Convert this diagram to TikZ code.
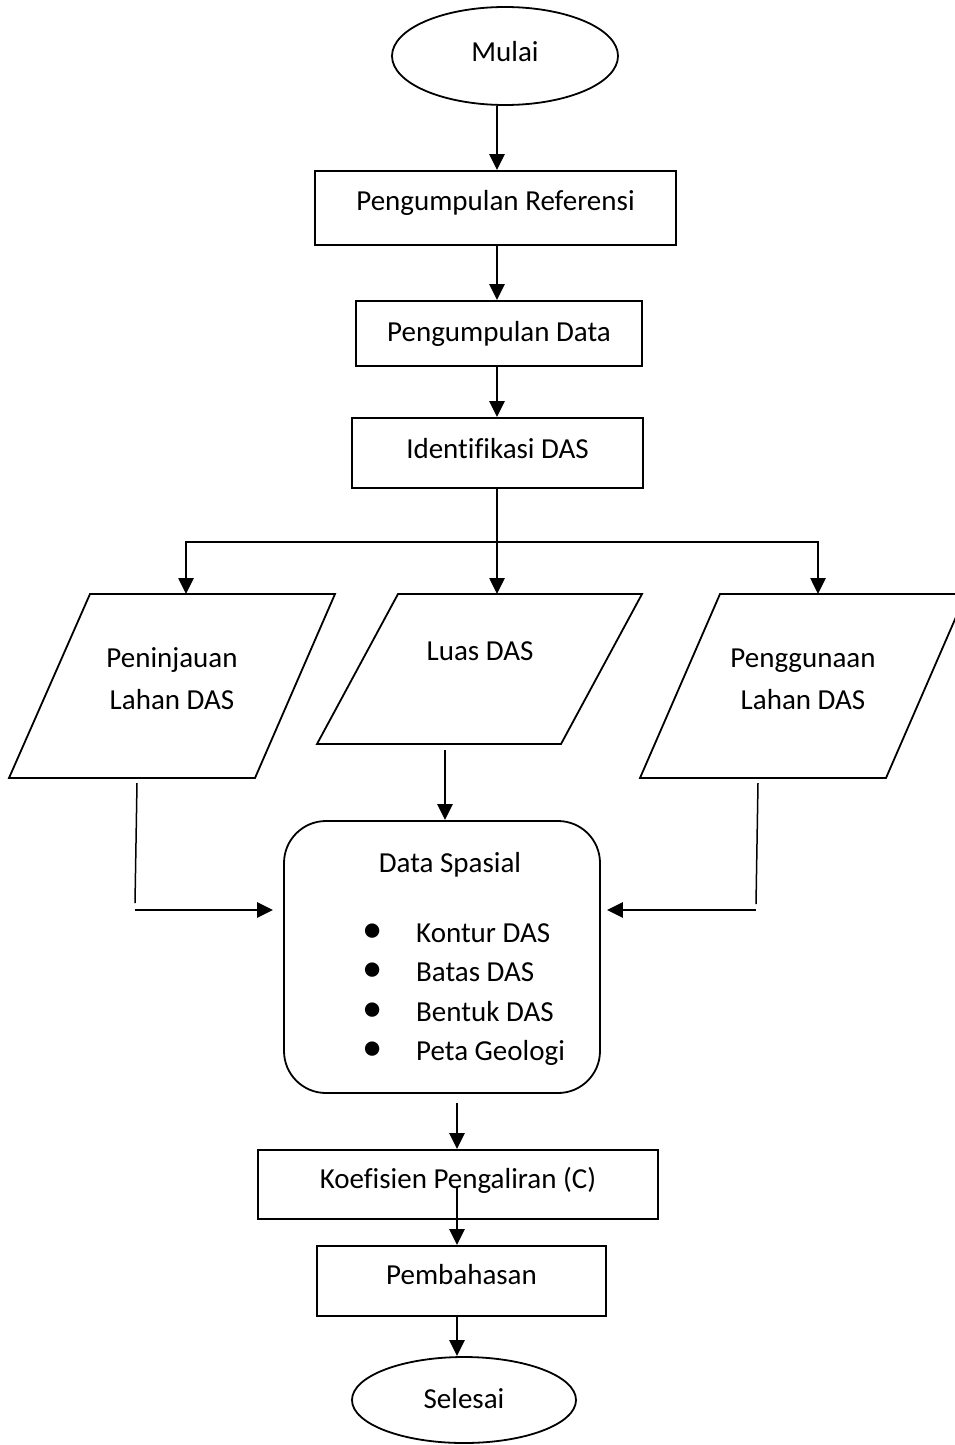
\documentclass[tikz,border=0pt]{standalone}
\usepackage{fontspec}
\setmainfont[Ligatures=NoCommon]{Carlito}
\usetikzlibrary{shapes.geometric,arrows.meta}
\begin{document}
\begin{tikzpicture}[x=1pt,y=-1pt,
  every node/.style={font=\fontsize{29}{42}\selectfont, inner sep=0pt},
  box/.style={draw, line width=1.8pt, rectangle},
  term/.style={draw, line width=1.8pt, ellipse},
  para/.style={draw, line width=1.8pt, line join=miter},
  arr/.style={line width=2.6pt, -{Triangle[length=16pt,width=15pt]}},
  thinline/.style={line width=1.5pt},
  lbl/.style={anchor=base},
  itm/.style={anchor=base west}
]
\useasboundingbox (0,0) rectangle (955,1445);
\clip (0,0) rectangle (955,1445);

% terminals and process boxes
\node[term, minimum width=226pt, minimum height=98pt, text height=20pt, text depth=8pt] (start) at (505,56) {Mulai};
\node[box, minimum width=361pt, minimum height=74pt, text height=20pt, text depth=16pt] (ref) at (495.5,208) {Pengumpulan Referensi};
\node[box, minimum width=286pt, minimum height=65pt, text height=22pt, text depth=7pt] (data) at (499,333.5) {Pengumpulan Data};
\node[box, minimum width=291pt, minimum height=70pt, text height=20pt, text depth=10pt] (ident) at (497.5,453) {Identifikasi DAS};

% parallelograms
\draw[para] (90,594) -- (335,594) -- (255,778) -- (9,778) -- cycle;
\draw[para] (398,594) -- (642,594) -- (561,744) -- (317,744) -- cycle;
\draw[para] (720,594) -- (966,594) -- (886,778) -- (640,778) -- cycle;
\node[align=center] (t1) at (172,679) {Peninjauan\\Lahan DAS};
\node[lbl] (t2) at (480,660) {Luas DAS};
\node[align=center] (t3) at (803,679) {Penggunaan\\Lahan DAS};

% spatial data
\node[draw, line width=1.8pt, rounded corners=42pt, minimum width=316pt, minimum height=272pt] (spasial) at (442,957) {};
\node[lbl] (st) at (450,872) {Data Spasial};
\node[itm] (i1) at (362,942) {\makebox[20pt]{\scalebox{1.4}{\textbullet}}\hspace{34pt}Kontur DAS};
\node[itm] (i2) at (362,981.5) {\makebox[20pt]{\scalebox{1.4}{\textbullet}}\hspace{34pt}Batas DAS};
\node[itm] (i3) at (362,1021) {\makebox[20pt]{\scalebox{1.4}{\textbullet}}\hspace{34pt}Bentuk DAS};
\node[itm] (i4) at (362,1060.5) {\makebox[20pt]{\scalebox{1.4}{\textbullet}}\hspace{34pt}Peta Geologi};

\node[box, minimum width=400pt, minimum height=69pt, text height=20pt, text depth=13pt] (koef) at (458,1184.5) {Koefisien Pengaliran (C)};
\node[box, minimum width=289pt, minimum height=70pt, text height=20pt, text depth=14pt] (pemb) at (461.5,1281) {Pembahasan};
\node[term, minimum width=224pt, minimum height=86pt, text height=22pt, text depth=6pt] (finish) at (464,1400) {Selesai};

% coordinates for free ends
\coordinate (j) at (497,542);
\coordinate (p1in) at (186,594);
\coordinate (p2in) at (497,594);
\coordinate (p3in) at (818,594);
\coordinate (p1out) at (137,783);
\coordinate (l1) at (135,903);
\coordinate (l2) at (135,910);
\coordinate (p2out) at (445,750);
\coordinate (p3out) at (758,783);
\coordinate (r1) at (756,904);
\coordinate (r2) at (756,910);

% connectors
\draw[arr] (start.south -| 497,0) -- (ref.north -| 497,0);
\draw[arr] (ref.south -| 497,0) -- (data.north -| 497,0);
\draw[arr] (data.south -| 497,0) -- (ident.north -| 497,0);
\draw[thinline] (ident.south -| j) -- (j);
\draw[arr] (j) -| (p1in);
\draw[arr] (j) -- (p2in);
\draw[arr] (j) -| (p3in);
\draw[arr] (p2out) -- (spasial.north -| p2out);
\draw[thinline] (p1out) -- (l1);
\draw[arr, shorten >=10pt] (l2) -- (l2 -| spasial.west);
\draw[thinline] (p3out) -- (r1);
\draw[arr, shorten >=6pt] (r2) -- (r2 -| spasial.east);
\draw[arr, shorten <=9pt] (spasial.south -| 457,0) -- (koef.north -| 457,0);
\draw[arr] (457,1187) -- (pemb.north -| 457,0);
\draw[arr] (pemb.south -| 457,0) -- (finish.north -| 457,0);
\end{tikzpicture}
\end{document}
